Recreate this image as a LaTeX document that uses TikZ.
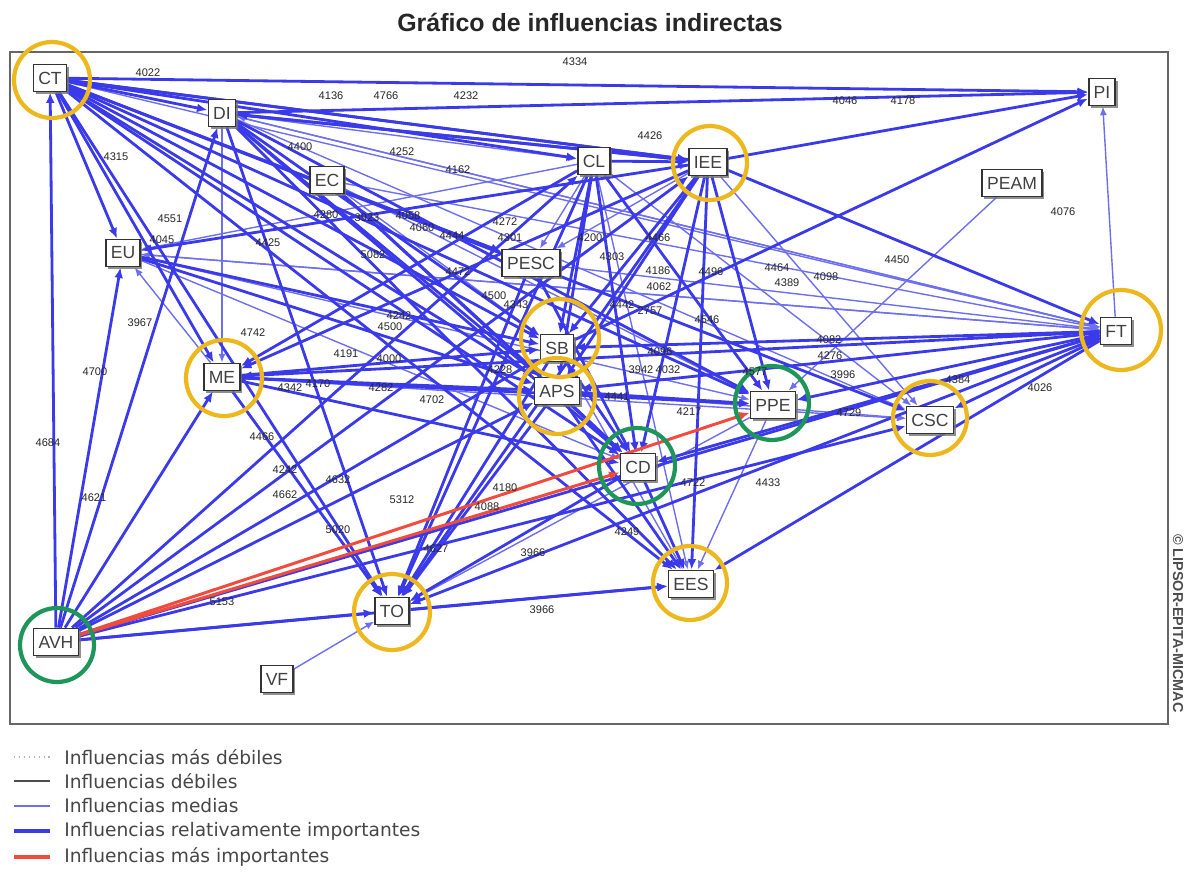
\documentclass[tikz,border=0pt]{standalone}
\usepackage{fontspec}
\setmainfont{Liberation Sans}
\setsansfont{Liberation Sans}
\newfontfamily\legendfont{DejaVu Sans}
\usetikzlibrary{arrows.meta,shadows}
\definecolor{relblue}{RGB}{58,58,235}
\definecolor{medblue}{RGB}{110,110,242}
\definecolor{topred}{RGB}{240,75,60}
\definecolor{ringyellow}{RGB}{236,184,30}
\definecolor{ringgreen}{RGB}{30,150,90}
\definecolor{txtgray}{RGB}{70,70,70}
\pgfdeclarelayer{bg}
\pgfsetlayers{bg,main}
\tikzset{
  var/.style={draw=black!80, fill=white, line width=0.9pt, text=black!75,
    font=\sffamily\fontsize{10}{10}\selectfont, inner xsep=2.8pt, inner ysep=2.2pt,
    minimum height=15.5pt,
    drop shadow={shadow xshift=1.3pt, shadow yshift=-1.3pt, fill=black!55, opacity=0.8}},
  numlab/.style={font=\sffamily\fontsize{6.3}{7}\selectfont, text=black!85, inner sep=0pt},
  rel/.style={draw=relblue, line width=1.6pt, -{Latex[length=6pt,width=5pt]}},
  med/.style={draw=medblue, line width=0.8pt, -{Latex[length=5pt,width=4pt]}},
  top/.style={draw=topred, line width=1.7pt, -{Latex[length=6pt,width=5pt]}},
  yring/.style={draw=ringyellow, line width=2.4pt},
  gring/.style={draw=ringgreen, line width=2.4pt},
  legtxt/.style={anchor=west, text=txtgray, font=\legendfont\fontsize{10.6}{11}\selectfont, inner sep=0pt}
}
\begin{document}
\begin{tikzpicture}[x=0.02cm, y=-0.02cm]
\useasboundingbox (0,0) rectangle (1189,873);

% title and frame
\node[font=\sffamily\bfseries\fontsize{14.2}{15}\selectfont, text=black!85] (title) at (590,22) {Gráfico de influencias indirectas};
\draw[black!60, line width=1.2pt] (10,52) rectangle (1168,724);
\node[rotate=-90, anchor=west, font=\sffamily\bfseries\fontsize{8.2}{9}\selectfont, text=black!70] (copy) at (1178,528) {© LIPSOR-EPITA-MICMAC};

% variables
\node[var] (CT)   at (50,78)   {CT};
\node[var] (DI)   at (222,113) {DI};
\node[var] (EC)   at (327,180) {EC};
\node[var] (EU)   at (123,253) {EU};
\node[var] (PESC) at (531,263) {PESC};
\node[var] (CL)   at (594,161) {CL};
\node[var] (IEE)  at (708,162) {IEE};
\node[var] (PEAM) at (1012,183) {PEAM};
\node[var] (PI)   at (1102,92) {PI};
\node[var] (FT)   at (1116,331) {FT};
\node[var] (SB)   at (557,348) {SB};
\node[var] (APS)  at (557,391) {APS};
\node[var] (ME)   at (222,377) {ME};
\node[var] (PPE)  at (773,405) {PPE};
\node[var] (CSC)  at (930,420) {CSC};
\node[var] (CD)   at (638,467) {CD};
\node[var] (EES)  at (691,584) {EES};
\node[var] (TO)   at (392,611) {TO};
\node[var] (AVH)  at (56,642)  {AVH};
\node[var] (VF)   at (277,679) {VF};

\begin{pgfonlayer}{bg}
% medium influences
\foreach \a/\b in {FT/PI, DI/ME, DI/CSC, IEE/CSC, CL/CSC, CL/EES, CL/EU, EC/SB, EC/PPE,
  EU/IEE, EU/PPE, EU/CD, PEAM/PPE, VF/TO, PPE/EES, PPE/TO, FT/EU, FT/DI, ME/EU, ME/CSC,
  DI/CL, CT/FT, PESC/FT, IEE/PESC, CL/PESC, EU/FT, APS/CSC, SB/EES, EC/FT, DI/FT}
  \draw[med] (\a) -- (\b);
% relatively important influences
\foreach \a/\b in {CT/PI, CT/DI, CT/EU, CT/IEE, CT/CL, CT/SB, CT/APS, CT/PPE, CT/CD, CT/ME,
  CT/TO, CT/CSC, CT/EES, CT/PESC,
  DI/PI, DI/IEE, DI/SB, DI/APS, DI/CD, DI/TO, DI/PPE, DI/EES,
  EC/APS, EC/CD,
  IEE/PI, IEE/DI, IEE/EU, IEE/ME, IEE/SB, IEE/APS, IEE/CD, IEE/PPE, IEE/EES, IEE/TO, IEE/FT, IEE/CT,
  CL/SB, CL/APS, CL/CD, CL/TO, CL/PPE, CL/ME, CL/IEE,
  FT/SB, FT/APS, FT/CD, FT/PPE, FT/TO, FT/ME, FT/EES, FT/CSC,
  ME/SB, ME/APS, ME/CD, ME/TO, ME/PPE,
  AVH/CT, AVH/EU, AVH/DI, AVH/ME, AVH/SB, AVH/APS, AVH/TO, AVH/IEE, AVH/CL, AVH/FT, AVH/EES, AVH/CSC,
  SB/PI, SB/TO, APS/TO, APS/CD, APS/EES, CD/EES, CD/TO, TO/EES, EU/SB, EU/APS,
  PESC/TO, PESC/CD, APS/PPE, SB/CD}
  \draw[rel] (\a) -- (\b);
% most important influences
\draw[top] (AVH) -- (CD);
\draw[top] (AVH) -- (PPE);
\end{pgfonlayer}

% rings
\draw[yring] (52,80) circle (0.76cm);
\draw[yring] (710,163) circle (0.74cm);
\draw[yring] (560,338) circle (0.78cm);
\draw[yring] (557,396) circle (0.76cm);
\draw[yring] (224,378) circle (0.76cm);
\draw[yring] (1121,330) circle (0.80cm);
\draw[yring] (930,418) circle (0.74cm);
\draw[yring] (690,583) circle (0.74cm);
\draw[yring] (392,612) circle (0.76cm);
\draw[gring] (772,403) circle (0.74cm);
\draw[gring] (637,466) circle (0.76cm);
\draw[gring] (57,645) circle (0.74cm);

% influence values
\foreach \x/\y/\t [count=\i] in {148/73/4022, 575/62/4334, 331/96/4136, 386/96/4766, 466/96/4232,
  845/101/4046, 903/101/4178, 650/136/4426, 300/147/4400, 402/152/4252, 458/170/4162,
  116/157/4315, 1063/212/4076, 170/219/4551, 162/240/4045, 326/215/4280, 367/218/3923,
  408/216/4058, 422/228/4060, 452/236/4444, 505/222/4272, 510/238/4301, 268/243/4425,
  373/255/5082, 590/238/4200, 658/238/4466, 458/272/4472, 612/257/4303, 658/271/4186,
  659/287/4062, 711/272/4496, 777/268/4464, 787/283/4389, 826/277/4098, 897/260/4450,
  494/296/4500, 516/305/4343, 622/305/4442, 650/311/2757, 707/320/4546, 140/323/3967,
  253/333/4742, 399/316/4242, 390/327/4500, 829/340/4082, 830/356/4276, 843/375/3996,
  346/354/4191, 389/359/4000, 500/370/4228, 95/372/4700, 290/388/4342, 318/384/4170,
  381/388/4282, 432/400/4702, 660/352/4096, 641/370/3942, 668/370/4032, 617/397/4441,
  689/412/4217, 755/372/4577, 958/380/4384, 1040/388/4026, 849/413/4729, 48/443/4684,
  262/437/4466, 94/498/4621, 285/470/4242, 285/495/4662, 338/480/4632, 402/500/5312,
  505/488/4180, 487/507/4088, 338/530/5020, 436/549/4627, 533/553/3966, 693/483/4722,
  768/483/4433, 627/532/4249, 222/602/5153, 542/610/3966}
  \node[numlab] (val\i) at (\x,\y) {\t};

% legend
\draw[black!30, line width=0.8pt, dotted] (14,757) -- (50,757);
\draw[black!70, line width=0.8pt] (14,781) -- (50,781);
\draw[medblue, line width=0.9pt] (14,806) -- (50,806);
\draw[relblue, line width=1.8pt] (14,831) -- (50,831);
\draw[topred, line width=2pt] (14,857) -- (50,857);
\node[legtxt] (leg1) at (64,757) {Influencias más débiles};
\node[legtxt] (leg2) at (64,781) {Influencias débiles};
\node[legtxt] (leg3) at (64,806) {Influencias medias};
\node[legtxt] (leg4) at (64,831) {Influencias relativamente importantes};
\node[legtxt] (leg5) at (64,857) {Influencias más importantes};
\end{tikzpicture}
\end{document}
